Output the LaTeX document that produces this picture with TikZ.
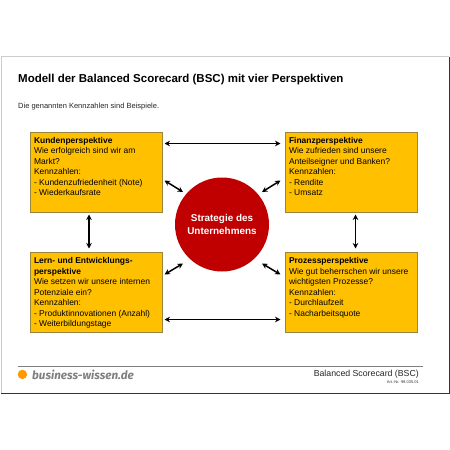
\documentclass[tikz,border=0pt]{standalone}
\usepackage{fontspec}
\setmainfont{Liberation Sans}
\newfontfamily\logofont{Fira Sans}
\usetikzlibrary{arrows.meta}
\definecolor{boxyellow}{HTML}{FFC000}
\definecolor{boxedge}{HTML}{9A8540}
\definecolor{circred}{HTML}{C00000}
\definecolor{dotorange}{HTML}{FF9A00}
\newcommand{\boxtext}[1]{\parbox[c][80pt][t]{124pt}{\vspace{5.2pt}\raggedright\fontsize{8.45}{10.55}\selectfont #1}}
\tikzset{
  x=1pt,y=-1pt,
  pbox/.style={draw=boxedge,line width=0.6pt,fill=boxyellow,minimum width=132.5pt,minimum height=80pt,inner sep=0pt,anchor=north west},
  conn/.style={line width=1.5pt,{Stealth[length=5.5pt,width=5.5pt]}-{Stealth[length=5.5pt,width=5.5pt]}},
  pt/.style={coordinate}
}
\begin{document}
\begin{tikzpicture}
\useasboundingbox (0,0) rectangle (450,450);
\fill[white] (0,0) rectangle (450,450);
% page frame
\draw[black!20,line width=0.8pt] (1,393) -- (1,56.5) -- (449,56.5);
\draw[black!80,line width=0.8pt] (449,56.5) -- (449,393.5) -- (1,393.5);
% headings
\node[anchor=west,inner sep=0pt,font=\fontsize{11.5}{14}\selectfont\bfseries] (title) at (18,80) {Modell der Balanced Scorecard (BSC) mit vier Perspektiven};
\node[anchor=west,inner sep=0pt,font=\fontsize{7.5}{9}\selectfont,text=black!85] (sub) at (18,106.5) {Die genannten Kennzahlen sind Beispiele.};
% boxes
\node[pbox] (kunden) at (29.5,131.5) {\boxtext{\textbf{Kundenperspektive}\\Wie erfolgreich sind wir am\\Markt?\\Kennzahlen:\\- Kundenzufriedenheit (Note)\\- Wiederkaufsrate}};
\node[pbox] (finanz) at (284.5,131.5) {\boxtext{\textbf{Finanzperspektive}\\Wie zufrieden sind unsere\\Anteilseigner und Banken?\\Kennzahlen:\\- Rendite\\- Umsatz}};
\node[pbox] (lern) at (29.5,252) {\boxtext{\textbf{Lern- und Entwicklungs-}\\\textbf{perspektive}\\Wie setzen wir unsere internen\\Potenziale ein?\\Kennzahlen:\\- Produktinnovationen (Anzahl)\\- Weiterbildungstage}};
\node[pbox] (prozess) at (284.5,252) {\boxtext{\textbf{Prozessperspektive}\\Wie gut beherrschen wir unsere\\wichtigsten Prozesse?\\Kennzahlen:\\- Durchlaufzeit\\- Nacharbeitsquote}};
% circle
\node[circle,fill=circred,minimum size=94pt,inner sep=0pt,align=center,text=white,font=\fontsize{9.9}{13.4}\selectfont\bfseries] (strategie) at (222,224.5) {Strategie des\\Unternehmens};
% connector ends
\node[pt] (a1) at (164.5,143.5) {}; \node[pt] (a2) at (280.5,143.5) {};
\node[pt] (b1) at (164.5,319.5) {}; \node[pt] (b2) at (280.5,319.5) {};
\node[pt] (c1) at (89,214.5) {}; \node[pt] (c2) at (89,248.5) {};
\node[pt] (d1) at (355.5,214.5) {}; \node[pt] (d2) at (355.5,248.5) {};
\node[pt] (e1) at (164.5,180.5) {}; \node[pt] (e2) at (183,192) {};
\node[pt] (f1) at (280.5,180.5) {}; \node[pt] (f2) at (262,192) {};
\node[pt] (g1) at (164.5,274.5) {}; \node[pt] (g2) at (183,263.5) {};
\node[pt] (h1) at (280.5,274.5) {}; \node[pt] (h2) at (262,263.5) {};
\draw[conn] (a1) -- (a2);
\draw[conn] (b1) -- (b2);
\draw[conn] (c1) -- (c2);
\draw[conn] (d1) -- (d2);
\draw[conn] (e1) -- (e2);
\draw[conn] (f1) -- (f2);
\draw[conn] (g1) -- (g2);
\draw[conn] (h1) -- (h2);
% footer
\node[pt] (fl) at (18,366.5) {}; \node[pt] (fr) at (423,366.5) {};
\draw[black!50,line width=0.7pt] (fl) -- (fr);
\fill[dotorange] (22.4,374.4) circle (4.7);
\node[anchor=west,inner sep=0pt,text=black!50,font=\logofont\fontsize{11.65}{14}\selectfont\bfseries\itshape] (logo) at (32,375) {business-wissen.de};
\node[anchor=east,inner sep=0pt,font=\fontsize{8.75}{10}\selectfont,text=black!85] (bsc) at (419,374) {Balanced Scorecard (BSC)};
\node[anchor=east,inner sep=0pt,font=\fontsize{4}{5}\selectfont,text=black!80] (art) at (419,382) {Art.-Nr. 99.035.01};
\end{tikzpicture}
\end{document}
